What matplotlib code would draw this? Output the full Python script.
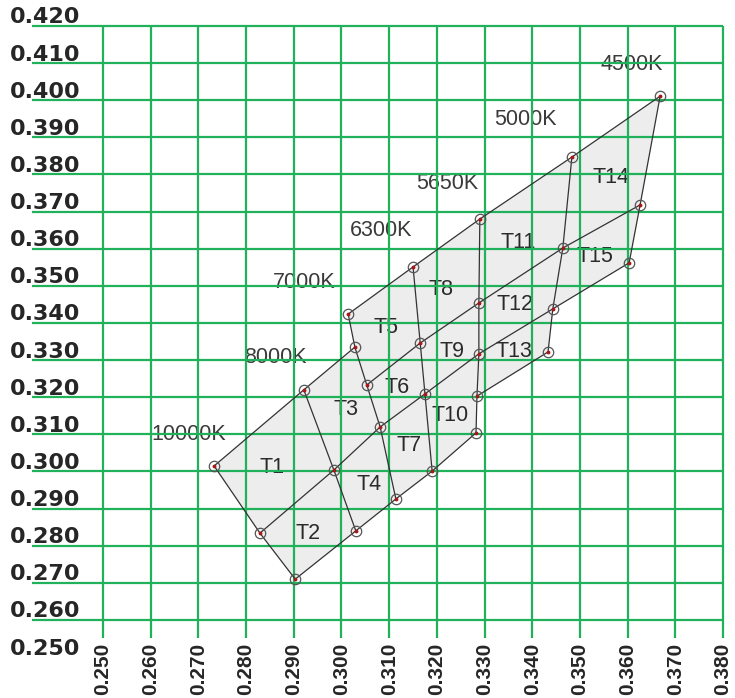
# -*- coding: utf-8 -*-

import numpy as np
import matplotlib.pyplot as plt
from matplotlib.patches import Polygon


# chromaticity points along each isotherm, listed top -> bottom
cct_names = ['10000K', '8000K', '7000K', '6300K', '5650K', '5000K', '4500K']

k10000_x = [0.2733, 0.2829, 0.2903]
k10000_y = [0.3015, 0.2834, 0.2710]
k8000_x = [0.2921, 0.2984, 0.3030]
k8000_y = [0.3220, 0.3004, 0.2840]
k7000_x = [0.3014, 0.3028, 0.3053, 0.3081, 0.3114]
k7000_y = [0.3424, 0.3335, 0.3233, 0.3120, 0.2926]
k6300_x = [0.3150, 0.3165, 0.3175, 0.3190]
k6300_y = [0.3551, 0.3346, 0.3209, 0.3001]
k5650_x = [0.3290, 0.3288, 0.3288, 0.3284, 0.3282]
k5650_y = [0.3680, 0.3454, 0.3317, 0.3203, 0.3104]
k5000_x = [0.3483, 0.3464, 0.3443, 0.3433]
k5000_y = [0.3847, 0.3602, 0.3438, 0.3322]
k4500_x = [0.3668, 0.3626, 0.3603]
k4500_y = [0.4011, 0.3718, 0.3562]

# row lines of each band: (point on left isotherm, point on right isotherm)
band_rows = [
  [(0, 0), (1, 1), (2, 2)],
  [(0, 1), (1, 3), (2, 4)],
  [(0, 0), (2, 1), (3, 2), (4, 3)],
  [(0, 0), (1, 1), (2, 2), (3, 4)],
  [(0, 0), (1, 1), (2, 2), (3, 3)],
  [(0, 0), (1, 1), (2, 2)],
]

# temperature labels
cct_lx = [0.2680, 0.2861, 0.2921, 0.3083, 0.3221, 0.3385, 0.3609]
cct_ly = [0.3101, 0.3308, 0.3510, 0.3650, 0.3777, 0.3947, 0.4095]

# bin labels T1..T15
bin_names = ['T%d' % i for i in range(1, 16)]
bin_x = [0.2854, 0.2930, 0.3009, 0.3058, 0.3093, 0.3116, 0.3142, 0.3209,
         0.3232, 0.3227, 0.3370, 0.3364, 0.3362, 0.3565, 0.3531]
bin_y = [0.3012, 0.2834, 0.3168, 0.2966, 0.3387, 0.3225, 0.3071, 0.3489,
         0.3322, 0.3152, 0.3618, 0.3449, 0.3322, 0.3791, 0.3578]

x_ticks = np.round(np.arange(0.25, 0.3801, 0.01), 3)
y_ticks = np.round(np.arange(0.25, 0.4201, 0.01), 3)

GREEN = '#1fb25a'
INK = '#262626'


def quadPolygon(left, right, r0, r1):
  # corners of one bin: top row line, right isotherm part, bottom row line, left isotherm part
  (a0, b0), (a1, b1) = r0, r1
  pts = [left[a0]]
  pts += right[b0:b1 + 1]
  pts += left[a0:a1 + 1][::-1]
  return pts


if __name__ == '__main__':
  iso = [
    list(zip(k10000_x, k10000_y)),
    list(zip(k8000_x, k8000_y)),
    list(zip(k7000_x, k7000_y)),
    list(zip(k6300_x, k6300_y)),
    list(zip(k5650_x, k5650_y)),
    list(zip(k5000_x, k5000_y)),
    list(zip(k4500_x, k4500_y)),
  ]

  fig = plt.figure(figsize=(7.35, 6.98), dpi=100)
  ax = fig.add_axes([0, 0, 1, 1])
  ax.set_xlim(0.228407, 0.382495)
  ax.set_ylim(0.238990, 0.427003)
  ax.axis('off')

  # grey fill of every bin
  for i, rows in enumerate(band_rows):
    left, right = iso[i], iso[i + 1]
    for r0, r1 in zip(rows[:-1], rows[1:]):
      poly = Polygon(quadPolygon(left, right, r0, r1), closed=True,
                     facecolor='#ededed', edgecolor='none', zorder=1)
      ax.add_patch(poly)

  # green grid, horizontal lines run under the y labels
  for v in y_ticks[1:]:
    ax.plot([0.2351, 0.38], [v, v], color=GREEN, lw=1.6, zorder=3,
            solid_capstyle='butt')
  for v in x_ticks:
    ax.plot([v, v], [0.2552, 0.42], color=GREEN, lw=1.6, zorder=3,
            solid_capstyle='butt')

  for v in y_ticks:
    ax.text(0.2305, v + 0.0023, '%.3f' % v, ha='left', va='center',
            fontsize=16, fontweight='bold', family='DejaVu Sans',
            color=INK, zorder=2)
  for v in x_ticks:
    ax.text(v, 0.2538, '%.3f' % v, ha='center', va='top', rotation=90,
            fontsize=15, fontweight='bold', family='Liberation Sans',
            color=INK, zorder=2)

  # isotherm lines
  for pts in iso:
    xs, ys = zip(*pts)
    ax.plot(xs, ys, color='#333333', lw=0.9, zorder=4)

  # row lines inside each band
  for i, rows in enumerate(band_rows):
    left, right = iso[i], iso[i + 1]
    for a, b in rows:
      ax.plot([left[a][0], right[b][0]], [left[a][1], right[b][1]],
              color='#333333', lw=0.9, zorder=4)

  # measurement points
  for pts in iso:
    xs, ys = zip(*pts)
    ax.plot(xs, ys, 'o', ms=7.5, mfc='none', mec='#555555', mew=0.9, zorder=5)
    ax.plot(xs, ys, '.', ms=3.5, color='#a81818', zorder=6)

  for name, x, y in zip(cct_names, cct_lx, cct_ly):
    ax.text(x, y, name, ha='center', va='center', fontsize=15.5,
            family='Liberation Sans', color='#3a3a3a', zorder=2)
  for name, x, y in zip(bin_names, bin_x, bin_y):
    ax.text(x, y, name, ha='center', va='center', fontsize=15.5,
            family='Liberation Sans', color='#2a2a2a', zorder=2)

  fig.savefig('out.png', dpi=100, facecolor='white')
